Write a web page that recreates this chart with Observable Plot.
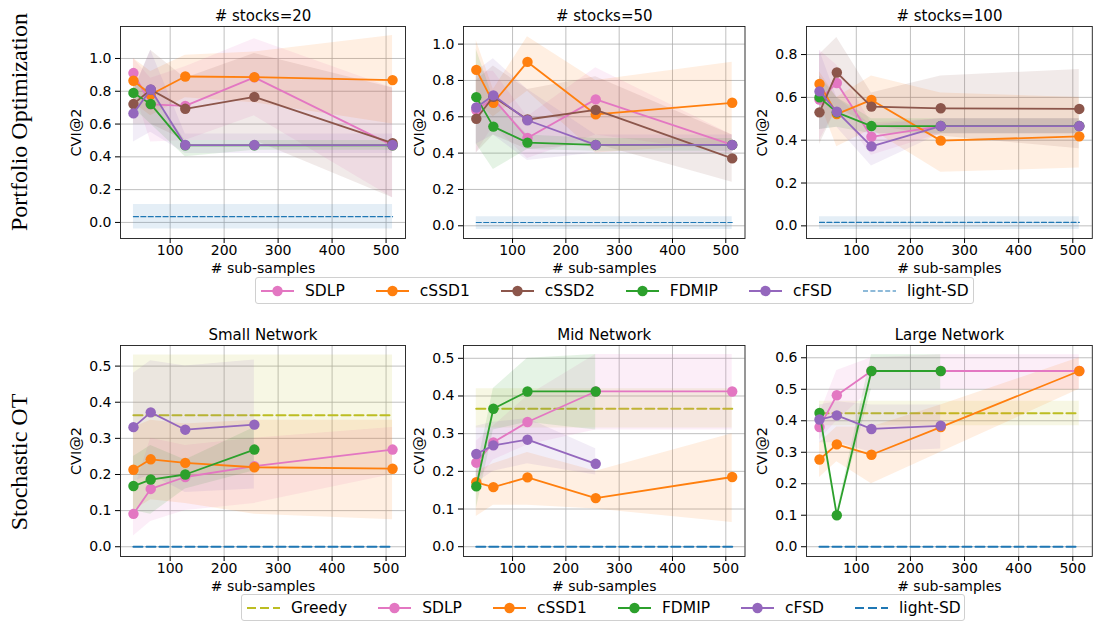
<!DOCTYPE html>
<html>
<head>
<meta charset="utf-8">
<script src="https://cdn.jsdelivr.net/npm/d3@7"></script>
<script src="https://cdn.jsdelivr.net/npm/@observablehq/plot@0.6"></script>
<style>
  html, body { margin: 0; padding: 0; background: #fff; overflow: hidden; }
  #root { position: relative; width: 1094px; height: 622px; overflow: hidden; font-family: "DejaVu Sans", sans-serif; color: #000; }
  #root svg text { font-family: "DejaVu Sans", sans-serif; }
  .panel { position: absolute; }
  .rowlabel { position: absolute; font-family: "Liberation Serif", serif; font-size: 24px; white-space: nowrap; transform: translate(-50%, -50%) rotate(-90deg); }
  .legend { position: absolute; box-sizing: border-box; border: 1px solid #d0d0d0; border-radius: 3px; background: #fff; display: flex; align-items: center; font-size: 15.5px; padding-left: 5px; white-space: nowrap; overflow: visible; }
  .legend .item { display: flex; align-items: center; margin-right: 31px; flex-shrink: 0; white-space: nowrap; }
  .legend .item:last-child { margin-right: 0; }
  .legend svg { margin-right: 11px; display: block; flex-shrink: 0; }
</style>
</head>
<body>
<div id="root"></div>
<script>
// ---------- data ----------
const subSamples = [32, 64, 128, 256, 512];
const xTicks = [100, 200, 300, 400, 500];
const topMethods = ["SDLP", "cSSD1", "cSSD2", "FDMIP", "cFSD"];
const botMethods = ["SDLP", "cSSD1", "FDMIP", "cFSD"];
const colors = {SDLP: "#e377c2", cSSD1: "#ff7f0e", cSSD2: "#8c564b", FDMIP: "#2ca02c", cFSD: "#9467bd", "light-SD": "#1f77b4", Greedy: "#bcbd22"};

// # stocks=20 (rows follow topMethods)
const s20Mean = [
  [0.911, 0.72, 0.711, 0.885, 0.47],
  [0.864, 0.78, 0.89, 0.886, 0.868],
  [0.722, 0.81, 0.693, 0.766, 0.484],
  [0.79, 0.722, 0.47, 0.47, 0.47],
  [0.665, 0.811, 0.472, 0.472, 0.472]
];
const s20Low = [
  [0.82, 0.49, 0.5, 0.65, 0.15],
  [0.73, 0.65, 0.76, 0.73, 0.6],
  [0.6, 0.6, 0.5, 0.5, 0.15],
  [0.7, 0.6, 0.4, 0.44, 0.44],
  [0.49, 0.55, 0.42, 0.42, 0.42]
];
const s20High = [
  [1.0, 0.88, 0.95, 1.12, 0.82],
  [1.0, 0.92, 1.02, 1.04, 1.14],
  [0.8, 1.05, 0.88, 1.03, 0.82],
  [0.85, 0.8, 0.5, 0.5, 0.5],
  [0.8, 1.05, 0.54, 0.54, 0.54]
];
const s20LightSD = [0.035, -0.04, 0.11];

// # stocks=50
const s50Mean = [
  [0.637, 0.70, 0.483, 0.696, 0.445],
  [0.858, 0.677, 0.902, 0.613, 0.677],
  [0.589, 0.71, 0.585, 0.638, 0.371],
  [0.708, 0.546, 0.458, 0.445, 0.445],
  [0.651, 0.718, 0.581, 0.445, 0.445]
];
const s50Low = [
  [0.40, 0.55, 0.37, 0.50, 0.40],
  [0.68, 0.60, 0.74, 0.40, 0.45],
  [0.40, 0.50, 0.42, 0.45, 0.24],
  [0.45, 0.31, 0.42, 0.41, 0.41],
  [0.45, 0.50, 0.36, 0.40, 0.40]
];
const s50High = [
  [0.85, 0.85, 0.60, 0.87, 0.50],
  [1.02, 0.75, 1.04, 0.80, 0.90],
  [0.80, 0.88, 0.75, 0.82, 0.50],
  [0.97, 0.70, 0.50, 0.48, 0.48],
  [0.85, 0.92, 0.75, 0.50, 0.50]
];
const s50LightSD = [0.018, -0.02, 0.05];

// # stocks=100
const s100Mean = [
  [0.59, 0.667, 0.416, 0.466, 0.466],
  [0.663, 0.522, 0.588, 0.398, 0.418],
  [0.530, 0.716, 0.557, 0.549, 0.546],
  [0.600, 0.530, 0.466, 0.466, 0.466],
  [0.628, 0.533, 0.371, 0.466, 0.466]
];
const s100Low = [
  [0.40, 0.55, 0.33, 0.43, 0.43],
  [0.58, 0.37, 0.45, 0.25, 0.27],
  [0.38, 0.55, 0.47, 0.42, 0.36],
  [0.45, 0.46, 0.43, 0.43, 0.43],
  [0.45, 0.46, 0.28, 0.43, 0.43]
];
const s100High = [
  [0.82, 0.75, 0.48, 0.50, 0.50],
  [0.72, 0.60, 0.70, 0.62, 0.60],
  [0.80, 0.88, 0.62, 0.70, 0.73],
  [0.70, 0.60, 0.50, 0.50, 0.50],
  [0.82, 0.60, 0.47, 0.50, 0.50]
];
const s100LightSD = [0.016, -0.017, 0.042];

// Small Network (rows follow botMethods)
const smallMean = [
  [0.091, 0.160, 0.193, 0.223, 0.269],
  [0.213, 0.242, 0.232, 0.220, 0.216],
  [0.168, 0.186, 0.200, 0.269, null],
  [0.331, 0.372, 0.324, 0.338, null]
];
const smallLow = [
  [0.03, 0.07, 0.10, 0.12, 0.20],
  [0.10, 0.13, 0.12, 0.09, 0.075],
  [0.10, 0.09, 0.16, 0.21, null],
  [0.18, 0.20, 0.15, 0.16, null]
];
const smallHigh = [
  [0.15, 0.30, 0.28, 0.30, 0.33],
  [0.33, 0.35, 0.34, 0.35, 0.35],
  [0.25, 0.28, 0.24, 0.33, null],
  [0.48, 0.515, 0.50, 0.517, null]
];
const smallGreedy = [0.364, 0.197, 0.531];

// Mid Network
const midMean = [
  [0.223, 0.277, 0.331, 0.412, 0.412],
  [0.171, 0.158, 0.184, 0.129, 0.185],
  [0.160, 0.366, 0.412, 0.412, null],
  [0.246, 0.269, 0.284, 0.220, null]
];
const midLow = [
  [0.17, 0.23, 0.27, 0.31, 0.31],
  [0.08, 0.11, 0.11, 0.10, 0.064],
  [0.10, 0.31, 0.33, 0.31, null],
  [0.17, 0.20, 0.22, 0.19, null]
];
const midHigh = [
  [0.28, 0.32, 0.40, 0.51, 0.51],
  [0.20, 0.22, 0.25, 0.20, 0.30],
  [0.20, 0.42, 0.50, 0.51, null],
  [0.32, 0.33, 0.34, 0.26, null]
];
const midGreedy = [0.366, 0.315, 0.419];

// Large Network
const largeMean = [
  [0.380, 0.481, 0.558, 0.558, 0.558],
  [0.277, 0.325, 0.292, 0.380, 0.558],
  [0.425, 0.100, 0.558, 0.558, null],
  [0.404, 0.417, 0.374, 0.384, null]
];
const largeLow = [
  [0.34, 0.40, 0.50, 0.50, 0.50],
  [0.22, 0.27, 0.20, 0.30, 0.50],
  [0.40, 0.09, 0.50, 0.50, null],
  [0.33, 0.33, 0.30, 0.31, null]
];
const largeHigh = [
  [0.42, 0.56, 0.60, 0.61, 0.61],
  [0.33, 0.38, 0.38, 0.45, 0.60],
  [0.45, 0.11, 0.61, 0.61, null],
  [0.45, 0.46, 0.45, 0.45, null]
];
const largeGreedy = [0.424, 0.384, 0.462];

// ---------- drawing ----------
const root = document.getElementById("root");
const font = "DejaVu Sans, sans-serif";

function drawPanel(o) {
  const [fx0, fy0, fx1, fy1] = o.frame;
  const mL = 62, mR = 3, mT = 30, mB = 52;
  const width = fx1 - fx0 + mL + mR, height = fy1 - fy0 + mT + mB;
  const xEnds = [subSamples[0], subSamples[subSamples.length - 1]];
  const series = o.methods.map((m, i) => subSamples.map((x, j) => ({
    method: m, x, y: o.mean[i][j], lo: o.low[i][j], hi: o.high[i][j]
  })).filter(d => d.y != null));

  const refMarks = (ref) => {
    const [v, lo, hi] = ref.values;
    const pts = xEnds.map(x => ({x, y: v, lo, hi}));
    const out = [];
    if (hi > lo) out.push(Plot.areaY(pts, {x: "x", y1: "lo", y2: "hi", fill: colors[ref.name], fillOpacity: 0.12}));
    out.push(Plot.line(pts, {x: "x", y: "y", stroke: colors[ref.name], strokeWidth: ref.width, strokeDasharray: ref.dash}));
    return out;
  };

  const marks = [
    Plot.gridX(xTicks, {stroke: "#b0b0b0", strokeOpacity: 1, strokeWidth: 0.8}),
    Plot.gridY(o.yTicks, {stroke: "#b0b0b0", strokeOpacity: 1, strokeWidth: 0.8}),
  ];
  (o.refsBefore || []).forEach(r => marks.push(...refMarks(r)));
  series.forEach((s, i) => {
    const c = colors[o.methods[i]];
    marks.push(Plot.areaY(s, {x: "x", y1: "lo", y2: "hi", fill: c, fillOpacity: 0.12}));
  });
  series.forEach((s, i) => {
    const c = colors[o.methods[i]];
    marks.push(Plot.line(s, {x: "x", y: "y", stroke: c, strokeWidth: 1.8}));
    marks.push(Plot.dot(s, {x: "x", y: "y", fill: c, r: 5.2}));
  });
  (o.refsAfter || []).forEach(r => marks.push(...refMarks(r)));
  marks.push(
    Plot.frame({stroke: "#1a1a1a", strokeWidth: 0.9}),
    Plot.axisX({ticks: xTicks, tickSize: 5, tickPadding: 2, tickFormat: d => String(d), label: null, fontSize: 14}),
    Plot.axisY({ticks: o.yTicks, tickSize: 5, tickPadding: 4, tickFormat: d3.format(".1f"), label: null, fontSize: 14}),
    Plot.text([o.title], {text: d => d, frameAnchor: "top", dy: -10, lineAnchor: "middle", fontSize: 15}),
    Plot.text(["# sub-samples"], {text: d => d, frameAnchor: "bottom", dy: 30, lineAnchor: "middle", fontSize: 14}),
    Plot.text(["CVI@2"], {text: d => d, frameAnchor: "left", dx: -44, rotate: -90, lineAnchor: "middle", textAnchor: "middle", fontSize: 14.5})
  );

  const chart = Plot.plot({
    width, height,
    marginLeft: mL, marginRight: mR, marginTop: mT, marginBottom: mB,
    x: {type: "linear", domain: [8, 536]},
    y: {type: "linear", domain: o.yDomain},
    style: {background: "transparent", overflow: "visible", fontFamily: font, fontSize: "14px", color: "#000"},
    marks
  });
  chart.classList.add("panel");
  chart.style.position = "absolute";
  chart.style.left = (fx0 - mL) + "px";
  chart.style.top = (fy0 - mT) + "px";
  chart.style.maxWidth = "none";
  root.appendChild(chart);
}

const lightTop = (vals) => ({name: "light-SD", values: vals, width: 1.2, dash: "5,2.4"});
const lightBot = {name: "light-SD", values: [0, 0, 0], width: 2.1, dash: "9,4"};
const greedy = (vals) => ({name: "Greedy", values: vals, width: 2.1, dash: "9,4"});

drawPanel({frame: [119.5, 26, 404.5, 238], title: "# stocks=20", yDomain: [-0.098, 1.195], yTicks: [0, 0.2, 0.4, 0.6, 0.8, 1.0],
  methods: topMethods, mean: s20Mean, low: s20Low, high: s20High, refsAfter: [lightTop(s20LightSD)]});
drawPanel({frame: [462.5, 26, 744, 238], title: "# stocks=50", yDomain: [-0.070, 1.097], yTicks: [0, 0.2, 0.4, 0.6, 0.8, 1.0],
  methods: topMethods, mean: s50Mean, low: s50Low, high: s50High, refsAfter: [lightTop(s50LightSD)]});
drawPanel({frame: [805.7, 26, 1091.5, 238], title: "# stocks=100", yDomain: [-0.059, 0.931], yTicks: [0, 0.2, 0.4, 0.6, 0.8],
  methods: topMethods, mean: s100Mean, low: s100Low, high: s100High, refsAfter: [lightTop(s100LightSD)]});
drawPanel({frame: [119.5, 345, 404.5, 556], title: "Small Network", yDomain: [-0.027, 0.557], yTicks: [0, 0.1, 0.2, 0.3, 0.4, 0.5],
  methods: botMethods, mean: smallMean, low: smallLow, high: smallHigh, refsBefore: [greedy(smallGreedy)], refsAfter: [lightBot]});
drawPanel({frame: [462.5, 345, 744, 556], title: "Mid Network", yDomain: [-0.026, 0.534], yTicks: [0, 0.1, 0.2, 0.3, 0.4, 0.5],
  methods: botMethods, mean: midMean, low: midLow, high: midHigh, refsBefore: [greedy(midGreedy)], refsAfter: [lightBot]});
drawPanel({frame: [805.7, 345, 1091.5, 556], title: "Large Network", yDomain: [-0.031, 0.639], yTicks: [0, 0.1, 0.2, 0.3, 0.4, 0.5, 0.6],
  methods: botMethods, mean: largeMean, low: largeLow, high: largeHigh, refsBefore: [greedy(largeGreedy)], refsAfter: [lightBot]});

// row labels
[["Portfolio Optimization", 121.5], ["Stochastic OT", 461.5]].forEach(([t, y]) => {
  const d = document.createElement("div");
  d.className = "rowlabel";
  d.textContent = t;
  d.style.left = "19px";
  d.style.top = y + "px";
  root.appendChild(d);
});

// legends
function swatch(name, kind, lw) {
  const c = colors[name];
  const ns = "http://www.w3.org/2000/svg";
  const svg = document.createElementNS(ns, "svg");
  svg.setAttribute("width", 33); svg.setAttribute("height", 12);
  const line = document.createElementNS(ns, "line");
  line.setAttribute("x1", 0); line.setAttribute("x2", 33); line.setAttribute("y1", 6); line.setAttribute("y2", 6);
  line.setAttribute("stroke", c); line.setAttribute("stroke-width", lw);
  if (kind === "dash") line.setAttribute("stroke-dasharray", lw > 1.5 ? "9,4" : "5,2.4");
  svg.appendChild(line);
  if (kind === "dot") {
    const ci = document.createElementNS(ns, "circle");
    ci.setAttribute("cx", 16.5); ci.setAttribute("cy", 6); ci.setAttribute("r", 5.2); ci.setAttribute("fill", c);
    svg.appendChild(ci);
  }
  return svg;
}
function legend(items, left, top, w) {
  const box = document.createElement("div");
  box.className = "legend";
  box.style.left = left + "px"; box.style.top = top + "px";
  box.style.width = w + "px"; box.style.height = "27px";
  items.forEach(([name, kind, lw]) => {
    const it = document.createElement("div");
    it.className = "item";
    it.appendChild(swatch(name, kind, lw));
    const s = document.createElement("span");
    s.textContent = name;
    it.appendChild(s);
    box.appendChild(it);
  });
  root.appendChild(box);
}
legend([["SDLP", "dot", 1.8], ["cSSD1", "dot", 1.8], ["cSSD2", "dot", 1.8], ["FDMIP", "dot", 1.8], ["cFSD", "dot", 1.8], ["light-SD", "dash", 1.2]], 255, 277, 719);
legend([["Greedy", "dash", 2.1], ["SDLP", "dot", 1.8], ["cSSD1", "dot", 1.8], ["FDMIP", "dot", 1.8], ["cFSD", "dot", 1.8], ["light-SD", "dash", 2.1]], 241, 594, 724);
</script>
</body>
</html>
